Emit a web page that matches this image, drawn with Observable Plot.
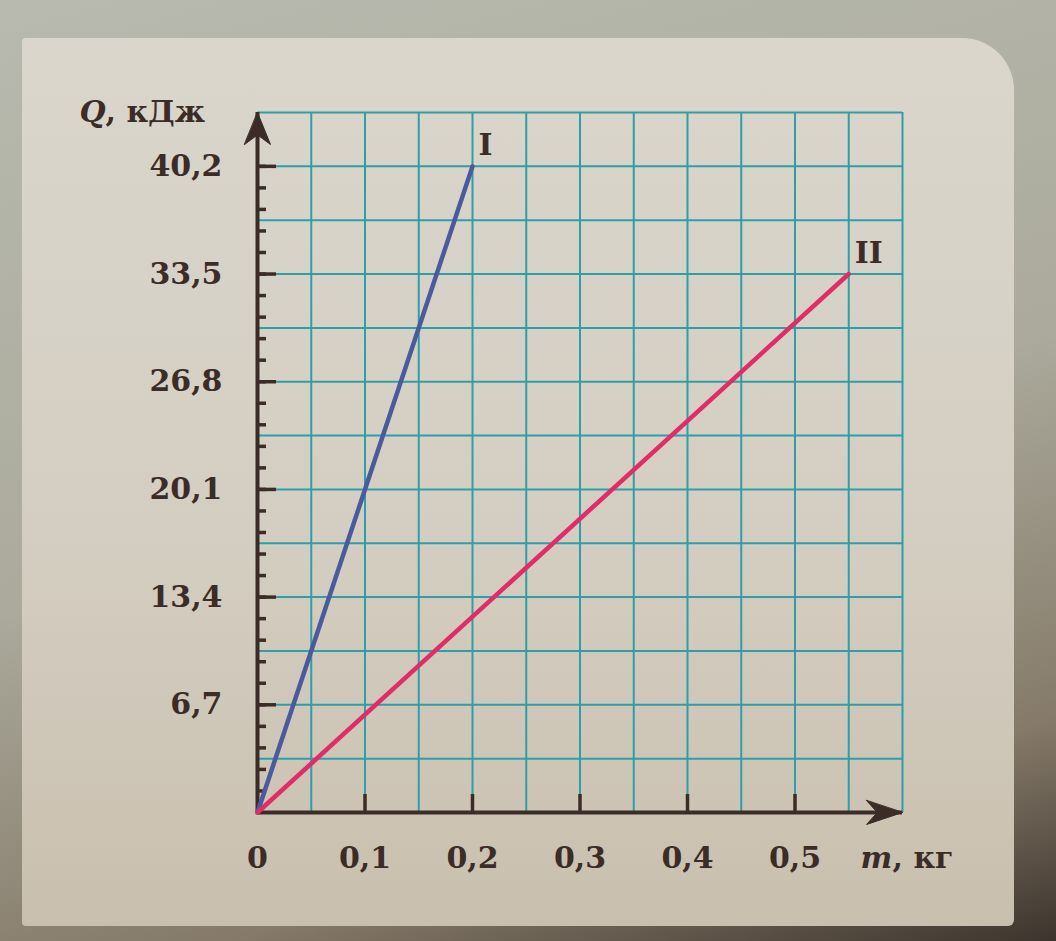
<!DOCTYPE html>
<html>
<head>
<meta charset="utf-8">
<script src="https://cdn.jsdelivr.net/npm/d3@7"></script>
<script src="https://cdn.jsdelivr.net/npm/@observablehq/plot@0.6"></script>
<style>
  html, body { margin: 0; padding: 0; }
  body {
    width: 1056px; height: 941px; overflow: hidden; position: relative;
    background: linear-gradient(165deg, #b8baaf 0%, #abaa9c 50%, #857a69 82%, #3d342d 100%);
  }
  #card {
    position: absolute; left: 22px; top: 38px; width: 992px; height: 888px;
    background: linear-gradient(180deg, #dad6cc 0%, #d4cec2 55%, #c9bfae 100%);
    border-radius: 4px 52px 6px 4px;
  }
  #chart { position: absolute; left: 0; top: 0; }
</style>
</head>
<body>
<div id="card"></div>
<div id="chart"></div>
<script>
// график I и график II: масса m (кг) -> количество теплоты Q (кДж)
const massI = [0, 0.2];
const heatI = [0, 40.2];
const massII = [0, 0.55];
const heatII = [0, 33.5];

const qTicks = [6.7, 13.4, 20.1, 26.8, 33.5, 40.2];
const mTicks = [0.1, 0.2, 0.3, 0.4, 0.5];
const mLabels = [0, 0.1, 0.2, 0.3, 0.4, 0.5];
const qMax = 43.55;
const mMax = 0.6;

// клетки сетки: 0,05 кг и 3,35 кДж, мелкие деления оси Q через 1,34 кДж
const mGrid = d3.range(1, 13).map(i => +(i * 0.05).toFixed(2));
const qGrid = d3.range(1, 14).map(i => +(i * 3.35).toFixed(2));
const qMinor = d3.range(1, 31).map(i => +(i * 1.34).toFixed(2));

const lines = [
  ...massI.map((m, i) => ({line: 'I', m: m, q: heatI[i]})),
  ...massII.map((m, i) => ({line: 'II', m: m, q: heatII[i]})),
];
const ends = [lines[1], lines[3]];

const ink = '#3b2c28';
const teal = '#2e9ea9';
const comma = d => d === 0 ? '0' : d.toFixed(1).replace('.', ',');

// стрелка на конце оси
const arrowHead = {
  draw(context, l, r) {
    context.moveTo(0, -l);
    context.lineTo(r, 0);
    context.lineTo(0, -l * 0.3);
    context.lineTo(-r, 0);
    context.closePath();
  }
};

let chart = Plot.plot({
  width: 1056,
  height: 941,
  marginLeft: 257,
  marginRight: 154,
  marginTop: 112,
  marginBottom: 129,
  x: {domain: [0, mMax]},
  y: {domain: [0, qMax]},
  color: {domain: ['I', 'II'], range: ['#4b5a9d', '#e02c67']},
  style: {
    fontFamily: '"DejaVu Serif", serif',
    fontSize: '30px',
    fontWeight: 'bold',
    color: ink,
    background: 'transparent',
    overflow: 'visible',
  },
  marks: [
    Plot.gridX(mGrid, {stroke: teal, strokeOpacity: 1, strokeWidth: 2}),
    Plot.gridY(qGrid, {stroke: teal, strokeOpacity: 1, strokeWidth: 2}),
    Plot.ruleX([0], {stroke: ink, strokeWidth: 4}),
    Plot.ruleY([0], {stroke: ink, strokeWidth: 4}),
    Plot.axisY(qMinor, {tickSize: -9, strokeWidth: 3.5, stroke: ink, fill: 'none', label: null}),
    Plot.axisY(qTicks, {tickSize: -19, strokeWidth: 3.5, stroke: ink, fill: 'none', label: null}),
    Plot.axisX(mTicks, {tickSize: -18, strokeWidth: 3.5, stroke: ink, fill: 'none', label: null}),
    Plot.axisY(qTicks, {tickSize: 0, tickPadding: 35, tickFormat: comma, fill: ink, label: null}),
    Plot.axisX(mLabels, {tickSize: 0, tickPadding: 34, tickFormat: comma, fill: ink, label: null}),
    Plot.vector([qMax], {x: 0, y: d => d, length: 32, r: 13, rotate: 0, anchor: 'end', shape: arrowHead, fill: ink, stroke: ink, strokeWidth: 1}),
    Plot.vector([mMax], {x: d => d, y: 0, length: 36, r: 12, rotate: 90, anchor: 'end', shape: arrowHead, fill: ink, stroke: ink, strokeWidth: 1}),
    Plot.line(lines, {x: 'm', y: 'q', z: 'line', stroke: 'line', strokeWidth: 4.5}),
    Plot.text(ends, {x: 'm', y: 'q', text: 'line', textAnchor: 'start', dx: 6, dy: -21, fill: ink, fontFamily: '"DejaVu Serif", serif'}),
    Plot.text(['Q'], {x: 0, y: qMax, text: d => d, textAnchor: 'start', dx: -178, dy: 0, fontStyle: 'italic', fill: ink}),
    Plot.text([', кДж'], {x: 0, y: qMax, text: d => d, textAnchor: 'start', dx: -152, dy: 0, fill: ink}),
    Plot.text(['m'], {x: mMax, y: 0, text: d => d, textAnchor: 'start', dx: -42, dy: 46, fontStyle: 'italic', fill: ink}),
    Plot.text([', кг'], {x: mMax, y: 0, text: d => d, textAnchor: 'start', dx: -10, dy: 46, fill: ink}),
  ],
});

d3.select('#chart').append(() => chart);
</script>
</body>
</html>
